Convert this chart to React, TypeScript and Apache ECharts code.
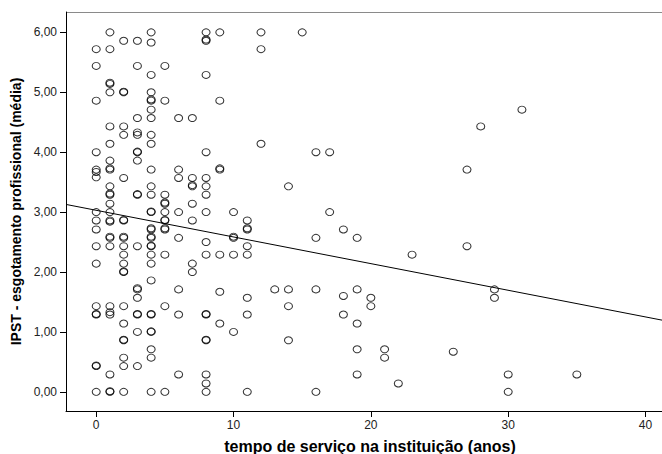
import React, { useEffect, useRef } from "react";
import * as echarts from "echarts";

// tempo de serviço na instituição (anos)
const tenureYears: number[] = [
  1, 4, 8, 9, 12, 15,
  2, 3, 8, 8, 4,
  0, 1, 12,
  0, 3, 5,
  4, 8,
  1, 1,
  1, 2, 2, 4,
  0, 4, 4, 5, 9,
  4,
  3, 4, 6, 7,
  1, 2, 28,
  2, 3, 3, 4,
  1, 4, 12,
  0, 3, 3, 8, 16, 17,
  1, 3,
  0, 0, 0, 1, 1, 4, 6, 9, 9, 27,
  2, 6, 7, 8,
  1, 4, 7, 7, 8, 14,
  1, 1, 3, 3, 4, 5, 8,
  1, 5, 5, 7,
  0, 1, 4, 4, 5, 6, 8, 10, 17,
  0, 1, 1, 2, 2, 5, 5, 7, 11,
  0, 4, 4, 5, 5, 11, 11, 18,
  1, 1, 2, 2, 4, 4, 6, 10, 10, 16, 19,
  8,
  0, 1, 2, 3, 4, 4, 11, 27,
  2, 4, 5, 8, 9, 10, 11, 23,
  0, 2, 4, 7,
  2, 2, 7,
  4,
  3, 3, 6, 13, 14, 16, 19, 29,
  9,
  3, 11, 18, 20, 29,
  0, 1, 2, 5, 14, 20,
  0, 0, 1, 1, 3, 3, 4, 4, 6, 8, 8, 11, 18,
  2, 9, 19,
  3, 4, 4, 10,
  2, 2, 8, 8, 14,
  4, 19, 21,
  26,
  2, 4, 21,
  0, 0, 2, 3,
  1, 6, 8, 19, 30, 35,
  8, 22,
  0, 1, 1, 2, 4, 5, 8, 11, 16, 30,
  31,
];

// IPST - esgotamento profissional (média)
const ipstMeans: number[] = [
  6.0, 6.0, 6.0, 6.0, 6.0, 6.0,
  5.86, 5.86, 5.86, 5.88, 5.83,
  5.72, 5.72, 5.72,
  5.44, 5.44, 5.44,
  5.29, 5.29,
  5.14, 5.16,
  5.0, 5.0, 5.01, 5.0,
  4.86, 4.86, 4.88, 4.86, 4.86,
  4.71,
  4.57, 4.57, 4.57, 4.57,
  4.43, 4.43, 4.43,
  4.29, 4.29, 4.33, 4.29,
  4.14, 4.14, 4.14,
  4.0, 4.0, 4.01, 4.0, 4.0, 4.0,
  3.86, 3.86,
  3.71, 3.67, 3.58, 3.71, 3.73, 3.71, 3.71, 3.71, 3.73, 3.71,
  3.57, 3.57, 3.57, 3.57,
  3.43, 3.43, 3.43, 3.45, 3.43, 3.43,
  3.29, 3.31, 3.29, 3.3, 3.29, 3.29, 3.29,
  3.14, 3.14, 3.16, 3.14,
  3.0, 3.0, 3.0, 3.01, 3.0, 3.0, 3.0, 3.0, 3.0,
  2.86, 2.86, 2.84, 2.86, 2.87, 2.86, 2.87, 2.86, 2.86,
  2.71, 2.71, 2.73, 2.71, 2.73, 2.71, 2.73, 2.71,
  2.57, 2.59, 2.57, 2.59, 2.57, 2.59, 2.57, 2.57, 2.59, 2.57, 2.57,
  2.5,
  2.43, 2.43, 2.43, 2.43, 2.43, 2.44, 2.43, 2.43,
  2.29, 2.29, 2.29, 2.29, 2.29, 2.29, 2.29, 2.29,
  2.14, 2.14, 2.14, 2.14,
  2.0, 2.01, 2.0,
  1.86,
  1.71, 1.73, 1.71, 1.71, 1.71, 1.71, 1.71, 1.71,
  1.67,
  1.57, 1.57, 1.6, 1.57, 1.57,
  1.43, 1.43, 1.43, 1.43, 1.43, 1.43,
  1.29, 1.3, 1.29, 1.33, 1.29, 1.3, 1.29, 1.3, 1.29, 1.29, 1.3, 1.29, 1.29,
  1.14, 1.14, 1.14,
  1.0, 1.0, 1.01, 1.0,
  0.86, 0.87, 0.86, 0.87, 0.86,
  0.71, 0.71, 0.71,
  0.67,
  0.57, 0.57, 0.57,
  0.43, 0.44, 0.43, 0.43,
  0.29, 0.29, 0.29, 0.29, 0.29, 0.29,
  0.14, 0.14,
  0.0, 0.0, 0.01, 0.0, 0.0, 0.0, 0.0, 0.0, 0.0, 0.0,
  4.71,
];

const xTickValues = [0, 10, 20, 30, 40];
const yTickValues = [0, 1, 2, 3, 4, 5, 6];
const xAxisTitle = "tempo de serviço na instituição (anos)";
const yAxisTitle = "IPST - esgotamento profissional (média)";

const regressionIntercept = 3.03;
const regressionSlope = -0.0445;

const X_MIN = -2.2;
const X_MAX = 41.2;
const Y_MIN = -0.32;
const Y_MAX = 6.34;

const FONT = "'Liberation Sans', Arial, sans-serif";

export default function App() {
  const ref = useRef<HTMLDivElement>(null);

  useEffect(() => {
    if (!ref.current) return;
    const chart = echarts.init(ref.current, undefined, { renderer: "svg" });
    const points = tenureYears.map((x, i) => [x, ipstMeans[i]]);
    const fitLine = [X_MIN, X_MAX].map((x) => [x, regressionIntercept + regressionSlope * x]);

    chart.setOption({
      animation: false,
      backgroundColor: "#ffffff",
      grid: {
        left: 66,
        right: 0,
        top: 12,
        bottom: 43,
        containLabel: false,
        outerBoundsMode: "none",
      },
      xAxis: {
        type: "value",
        min: X_MIN,
        max: X_MAX,
        name: xAxisTitle,
        nameLocation: "middle",
        nameGap: 27,
        nameTextStyle: {
          fontFamily: FONT,
          fontWeight: "bold",
          fontSize: 16,
          color: "#000",
          padding: [0, 0, 0, 12],
        },
        axisLine: { show: true, onZero: false, lineStyle: { color: "#000", width: 1 } },
        axisTick: { show: true, length: 6, customValues: xTickValues, lineStyle: { color: "#000" } },
        axisLabel: {
          customValues: xTickValues,
          fontFamily: FONT,
          fontSize: 12,
          color: "#222",
          margin: 8,
        },
        splitLine: { show: false },
      },
      yAxis: {
        type: "value",
        min: Y_MIN,
        max: Y_MAX,
        name: yAxisTitle,
        nameLocation: "middle",
        nameGap: 37,
        nameTextStyle: {
          fontFamily: FONT,
          fontWeight: "bold",
          fontSize: 14,
          color: "#000",
        },
        axisLine: { show: true, onZero: false, lineStyle: { color: "#000", width: 1 } },
        axisTick: { show: true, length: 6, customValues: yTickValues, lineStyle: { color: "#000" } },
        axisLabel: {
          customValues: yTickValues,
          formatter: (v: number) => v.toFixed(2).replace(".", ","),
          fontFamily: FONT,
          fontSize: 12,
          color: "#222",
          margin: 9,
        },
        splitLine: { show: false },
      },
      graphic: [
        {
          type: "line",
          shape: { x1: 66, y1: 12.5, x2: 662, y2: 12.5 },
          style: { stroke: "#8a8a8a", lineWidth: 1 },
        },
      ],
      series: [
        {
          type: "line",
          data: fitLine,
          showSymbol: false,
          symbol: "none",
          lineStyle: { color: "#000", width: 1 },
          silent: true,
        },
        {
          type: "scatter",
          data: points,
          symbol: "circle",
          symbolSize: [8, 7],
          itemStyle: { color: "rgba(0,0,0,0)", borderColor: "#000", borderWidth: 1 },
        },
      ],
    });
    return () => chart.dispose();
  }, []);

  return (
    <div
      ref={ref}
      style={{ position: "fixed", left: 0, top: 0, width: 662, height: 454, background: "#fff" }}
    />
  );
}
